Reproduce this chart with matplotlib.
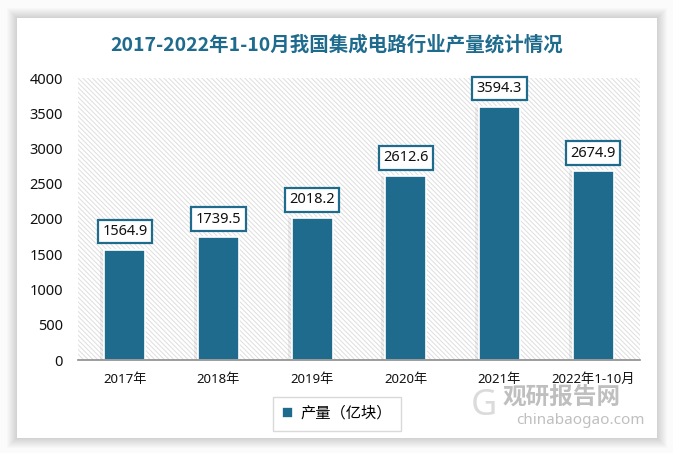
import matplotlib
matplotlib.use('Agg')
import matplotlib.pyplot as plt
from matplotlib.patches import Rectangle

plt.rcParams['font.family'] = ['Noto Sans', 'Noto Sans CJK SC']

categories = ['2017年', '2018年', '2019年', '2020年', '2021年', '2022年1-10月']
values = [1564.9, 1739.5, 2018.2, 2612.6, 3594.3, 2674.9]
y_ticks = [0, 500, 1000, 1500, 2000, 2500, 3000, 3500, 4000]
title = '2017-2022年1-10月我国集成电路行业产量统计情况'
legend_label = '产量（亿块）'

BLUE = '#1F6B8E'
W, H = 673, 453

fig = plt.figure(figsize=(W / 100, H / 100), dpi=100)
fig.patch.set_facecolor('#fbfbfb')

# card with soft shadow
x0, y0, x1, y1 = 17, 18, 657, 438
for i in range(10, 0, -1):
    fig.patches.append(Rectangle(((x0 - i) / W, 1 - (y1 + i) / H),
                                 (x1 - x0 + 2 * i) / W, (y1 - y0 + 2 * i) / H,
                                 transform=fig.transFigure, facecolor='#000000',
                                 alpha=0.016, edgecolor='none', zorder=-20))
fig.patches.append(Rectangle((x0 / W, 1 - y1 / H), (x1 - x0) / W, (y1 - y0) / H,
                             transform=fig.transFigure, facecolor='white',
                             edgecolor='none', zorder=-10))

ax = fig.add_axes([78 / W, 1 - 360 / H, 562 / W, 282 / H])
ax.set_facecolor('none')
plt.rcParams['hatch.linewidth'] = 0.7
ax.add_patch(Rectangle((0, 0), 1, 1, transform=ax.transAxes, facecolor='white',
                       edgecolor='#dedede', hatch='\\' * 7, lw=0, zorder=0))

x = list(range(len(categories)))
# faint bar shadows
ax.bar([i - 0.02 for i in x], values, width=0.48, color='#000000', alpha=0.06,
       zorder=1, linewidth=0)
ax.bar(x, values, width=0.44, color=BLUE, edgecolor='white', linewidth=1.2,
       zorder=2, label=legend_label)

for i, v in zip(x, values):
    ax.annotate(f'{v:.1f}', (i, v), xytext=(0, 13), textcoords='offset points',
                ha='center', va='center', fontsize=10.5, color='#111111', zorder=4,
                bbox=dict(boxstyle='square,pad=0.3', fc='white', ec=BLUE, lw=1.6))

ax.set_xlim(-0.5, len(categories) - 0.5)
ax.set_ylim(0, 4000)
ax.set_yticks(y_ticks)
ax.set_yticklabels([str(t) for t in y_ticks], fontsize=10.5, color='#111111')
ax.set_xticks(x)
ax.set_xticklabels(categories, fontsize=9.5, color='#111111')
ax.tick_params(axis='both', length=0)
ax.tick_params(axis='x', pad=9)
ax.tick_params(axis='y', pad=11)
for s in ['top', 'right', 'left']:
    ax.spines[s].set_visible(False)
ax.spines['bottom'].set_color('#8c8c8c')
ax.spines['bottom'].set_linewidth(1.2)

fig.text(0.5, 1 - 45 / H, title, ha='center', va='center', fontsize=14,
         fontweight='bold', color=BLUE, family=['Noto Sans CJK SC'])

leg = ax.legend(loc='center', bbox_to_anchor=(337 / W, 1 - 414 / H),
                bbox_transform=fig.transFigure, frameon=True, fancybox=False,
                fontsize=11, handlelength=0.7, handleheight=0.7, borderpad=0.6,
                handletextpad=0.5)
leg.get_frame().set_edgecolor('#d0d0d0')
leg.get_frame().set_linewidth(1.0)

# watermark
fig.text(562 / W, 1 - 398 / H, '观研报告网', ha='center', va='center',
         fontsize=17, fontweight='bold', color='#808080', alpha=0.5)
fig.text(580 / W, 1 - 420 / H, 'chinabaogao.com', ha='center', va='center',
         fontsize=11, color='#808080', alpha=0.5)
fig.text(484 / W, 1 - 406 / H, 'G', ha='center', va='center', fontsize=26,
         fontweight='bold', color='#9a9a9a', alpha=0.35)

fig.savefig('out.png', dpi=100)
